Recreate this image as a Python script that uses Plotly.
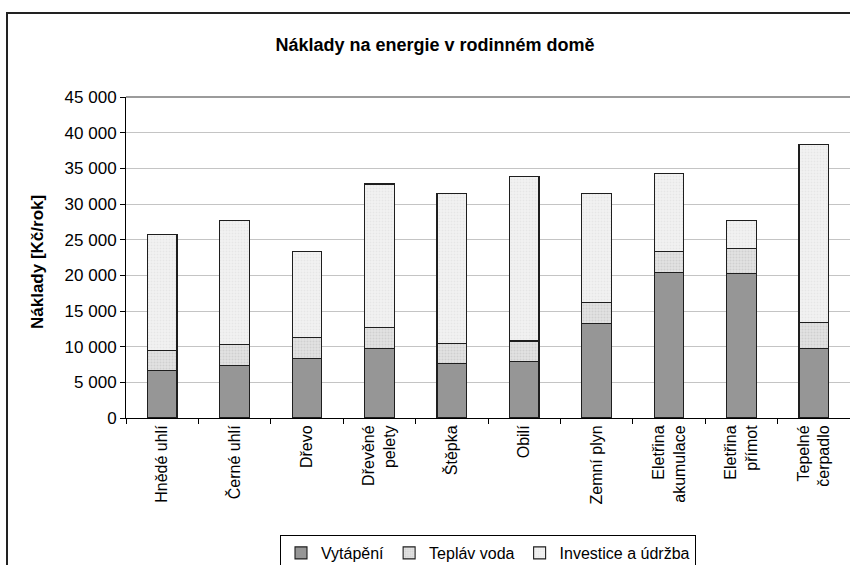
import plotly.graph_objects as go

categories = ["Hnědé uhlí", "Černé uhlí", "Dřevo", "Dřevěné<br>pelety", "Štěpka", "Obilí",
              "Zemní plyn", "Eletřina<br>akumulace", "Eletřina<br>přímot", "Tepelné<br>čerpadlo"]
vytapeni = [6600, 7400, 8400, 9800, 7600, 7900, 13200, 20450, 20200, 9800]
tepla_voda = [2900, 2900, 2900, 2900, 2900, 2900, 2950, 2900, 3550, 3600]
investice = [16200, 17400, 12100, 20100, 21000, 23100, 15350, 10900, 4000, 25000]
y_ticks = [0, 5000, 10000, 15000, 20000, 25000, 30000, 35000, 40000, 45000]

font = "Liberation Sans, Arial, sans-serif"
outline = dict(color="#1e1e1e", width=1.1)

W, H = 850, 565
L, R, T, B = 126, 0, 97, 147
pw, ph = W - L - R, H - T - B

fig = go.Figure()
fig.add_trace(go.Bar(name="Vytápění", x=categories, y=vytapeni,
                     marker=dict(color="#969696", line=outline)))
fig.add_trace(go.Bar(name="Tepláv voda", x=categories, y=tepla_voda,
                     marker=dict(color="#dedede", line=outline,
                                 pattern=dict(shape=".", bgcolor="#e2e2e2", fgcolor="#bdbdbd",
                                              size=3, solidity=0.35))))
fig.add_trace(go.Bar(name="Investice a údržba", x=categories, y=investice,
                     marker=dict(color="#f0f0f0", line=outline,
                                 pattern=dict(shape=".", bgcolor="#f2f2f2", fgcolor="#dadada",
                                              size=3, solidity=0.3))))

fig.update_layout(
    width=W, height=H,
    barmode="stack", bargap=0.59,
    margin=dict(l=L, r=R, t=T, b=B, autoexpand=False),
    paper_bgcolor="white", plot_bgcolor="white",
    separators=", ",
    font=dict(family=font, size=16, color="black"),
    title=dict(text="<b>Náklady na energie v rodinném domě</b>", x=435 / W, xanchor="center",
               y=1 - 45 / H, yanchor="middle", font=dict(size=18, family=font)),
    showlegend=True,
    legend=dict(orientation="h", x=(488 - L) / pw, xanchor="center", y=(418 - 535) / ph, yanchor="top",
                bordercolor="#000000", borderwidth=1, bgcolor="white",
                font=dict(size=16, family=font), traceorder="normal",
                itemwidth=30, tracegroupgap=0),
    annotations=[dict(text="<b>Náklady [Kč/rok]</b>", textangle=-90, xref="paper", yref="paper",
                      x=(37 - L) / pw, y=(418 - 262) / ph, xanchor="center", yanchor="middle",
                      showarrow=False, font=dict(size=17, family=font))],
    shapes=[dict(type="rect", xref="paper", yref="paper",
                 x0=(7 - L) / pw, x1=1.2, y0=-0.6, y1=(418 - 13) / ph,
                 line=dict(color="#222222", width=2), fillcolor="rgba(0,0,0,0)", layer="below"),
            dict(type="line", xref="paper", yref="paper", x0=0, x1=1, y0=1, y1=1,
                 line=dict(color="#7a7a7a", width=1.5), layer="below")],
)

fig.update_yaxes(range=[0, 45000], tickvals=y_ticks, tickformat=",d", automargin=False,
                 showgrid=True, gridcolor="#c4c4c4", gridwidth=1,
                 showline=True, linecolor="black", linewidth=1,
                 ticks="outside", ticklen=5, tickcolor="black",
                 zeroline=False, tickfont=dict(size=17))
fig.update_xaxes(showline=True, linecolor="black", linewidth=1, automargin=False,
                 ticks="outside", ticklen=5, tickcolor="black", tickson="boundaries",
                 tickangle=-90, tickfont=dict(size=16), showgrid=False)

fig.write_html("out.html", config={"displayModeBar": False},
               post_script="document.body.style.margin='0';document.body.style.overflow='hidden';")
